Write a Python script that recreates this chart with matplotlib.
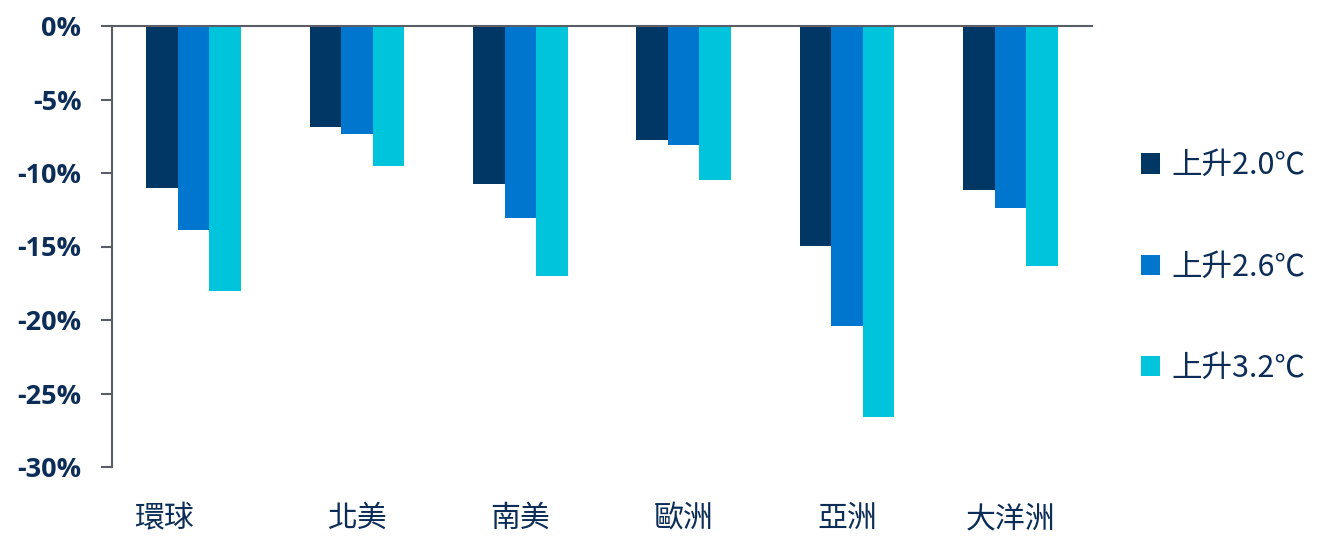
import matplotlib
matplotlib.use("Agg")
import matplotlib.pyplot as plt
import matplotlib.transforms as mtransforms
from matplotlib.patches import Patch
import numpy as np

plt.rcParams['font.family'] = ['Noto Sans CJK TC', 'DejaVu Sans']

categories = ['環球', '北美', '南美', '歐洲', '亞洲', '大洋洲']
series_names = ['上升2.0℃', '上升2.6℃', '上升3.2℃']
s20 = [-11.0, -6.9, -10.75, -7.75, -14.95, -11.15]
s26 = [-13.9, -7.35, -13.05, -8.1, -20.4, -12.4]
s32 = [-18.05, -9.5, -17.0, -10.5, -26.6, -16.3]
yticks = [0, -5, -10, -15, -20, -25, -30]
ytick_labels = ['0%', '-5%', '-10%', '-15%', '-20%', '-25%', '-30%']

colors = ['#003764', '#0076CE', '#00C3DC']
navy = '#0B2D57'
grey = '#5A5D66'

fig = plt.figure(figsize=(13.22, 5.37), dpi=100)
ax = fig.add_axes([112/1322, 1-467/537, (1092-112)/1322, (467-26)/537])

x = np.arange(len(categories))
w = 0.193
for i, (vals, c, name) in enumerate(zip([s20, s26, s32], colors, series_names)):
    ax.bar(x + (i-1)*w, vals, width=w, color=c, label=name, align='center')

ax.set_xlim(-0.5, 5.5)
ax.set_ylim(-30, 0)
ax.set_yticks(yticks)
ax.set_yticklabels(ytick_labels, family=['Open Sans', 'DejaVu Sans'], fontweight='bold',
                   fontsize=19.5, color=navy)
ax.set_xticks(x)
ax.set_xticklabels(categories, fontsize=21.5, color=navy)

for s in ['right', 'bottom']:
    ax.spines[s].set_visible(False)
for s in ['left', 'top']:
    ax.spines[s].set_color(grey)
    ax.spines[s].set_linewidth(1.5)
ax.tick_params(axis='y', length=8, width=1.5, color=grey, pad=14)
ax.tick_params(axis='x', length=0, pad=26)

# first category label sits slightly left of its group
off = mtransforms.ScaledTranslation(-30/100, 0, fig.dpi_scale_trans)
lbl = ax.get_xticklabels()[0]
lbl.set_transform(lbl.get_transform() + off)

handles = [Patch(facecolor=c, edgecolor='none') for c in colors]
leg = fig.legend(handles, series_names, loc='center left',
                 bbox_to_anchor=(1113/1322, 1-267/537), frameon=False,
                 fontsize=22, labelcolor=navy, handlelength=0.65, handleheight=0.65,
                 handletextpad=0.35, labelspacing=2.3)

fig.savefig('out.png', dpi=100)
